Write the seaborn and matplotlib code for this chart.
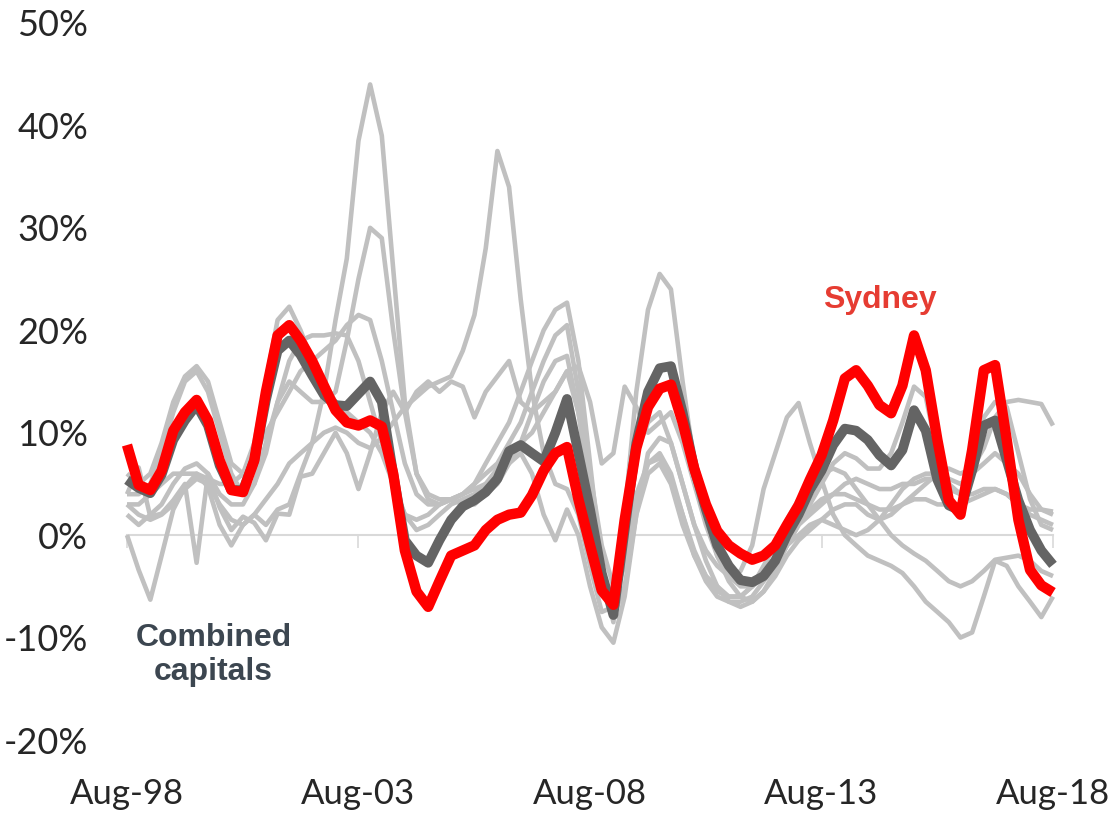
import pandas as pd
import seaborn as sns
import matplotlib.pyplot as plt

# quarterly points, Aug-98 .. Aug-18 (annual % change)
dates = pd.date_range('1998-08-01', '2018-08-01', freq='3MS')

sydney = [8.8, 4.9, 4.4, 6.3, 10.2, 12.0, 13.2, 11.2, 7.3, 4.4,
          4.2, 7.3, 14.0, 19.5, 20.5, 19.0, 17.0, 14.6, 12.2, 11.0,
          10.7, 11.2, 10.6, 6.0, -1.5, -5.5, -7.0, -4.5, -2.0, -1.5,
          -1.0, 0.5, 1.5, 2.0, 2.2, 3.9, 6.3, 8.0, 8.6, 3.5,
          -1.0, -5.4, -6.8, 1.5, 8.5, 12.5, 14.3, 14.7, 11.0, 6.5,
          3.0, 0.4, -1.0, -1.8, -2.4, -2.0, -1.0, 1.0, 2.9, 5.4,
          7.8, 11.2, 15.3, 16.1, 14.6, 12.7, 11.9, 14.6, 19.5, 16.1,
          9.3, 3.4, 2.0, 8.3, 16.1, 16.6, 9.3, 1.5, -3.4, -4.9, -5.6]

combined = [5.4, 4.6, 4.1, 5.9, 9.3, 11.2, 12.7, 10.7, 6.8, 4.4,
            4.4, 7.3, 13.2, 18.0, 19.0, 17.6, 15.6, 13.7, 12.7, 12.6,
            13.8, 15.0, 13.0, 6.0, -0.5, -2.0, -2.7, -0.5, 1.5, 2.8,
            3.4, 4.2, 5.5, 8.2, 8.8, 8.0, 7.2, 10.0, 13.3, 8.0,
            2.5, -3.7, -7.8, 0.5, 9.0, 14.0, 16.3, 16.5, 12.0, 6.5,
            2.5, -1.0, -3.0, -4.4, -4.6, -4.0, -2.5, 0.0, 2.0, 4.4,
            6.3, 8.8, 10.4, 10.2, 9.3, 7.8, 6.8, 8.3, 12.2, 10.2,
            5.4, 2.9, 2.4, 6.3, 10.7, 11.2, 7.3, 3.4, 0.5, -1.5, -2.9]

hobart = [0.0, -3.4, -6.3, -2.0, 2.5, 4.7, 6.0, 4.7, 1.0, -1.0,
          1.0, 2.0, 1.0, 2.5, 3.0, 6.0, 9.0, 14.0, 21.0, 27.0,
          38.5, 44.0, 39.0, 26.0, 13.0, 6.0, 4.0, 3.5, 3.5, 4.0,
          4.5, 5.0, 5.5, 7.0, 8.0, 6.0, 2.0, -0.5, 2.5, 0.0,
          -5.0, -9.0, -10.5, -6.0, 2.0, 8.0, 9.5, 9.0, 5.0, 1.0,
          -2.5, -5.0, -6.5, -7.0, -6.5, -5.5, -4.0, -2.0, -0.5, 0.5,
          1.5, 2.5, 3.0, 3.0, 2.0, 1.5, 2.0, 3.0, 4.0, 5.0,
          6.0, 6.5, 6.0, 6.5, 8.5, 11.5, 13.0, 13.2, 13.0, 12.8, 10.7]

darwin = [4.0, 6.6, 1.8, 2.1, 3.4, 5.0, -2.7, 6.0, 2.7, 0.5,
          1.8, 1.2, -0.5, 2.1, 2.0, 5.7, 6.0, 8.0, 10.0, 8.0,
          4.5, 8.0, 12.0, 14.0, 12.0, 14.0, 15.0, 14.0, 15.0, 14.5,
          11.5, 14.0, 15.5, 17.0, 13.0, 12.0, 13.0, 14.0, 16.0, 16.5,
          13.0, 7.0, 8.0, 14.5, 12.5, 10.0, 11.0, 12.0, 9.0, 5.0,
          1.0, -2.0, -4.0, -3.5, -1.0, 4.5, 8.0, 11.5, 12.9, 9.0,
          5.4, 2.0, 0.0, -1.0, -2.0, -2.5, -3.0, -3.7, -5.0, -6.5,
          -7.5, -8.5, -10.0, -9.5, -6.0, -2.5, -3.0, -5.0, -6.5, -8.0, -6.0]

perth = [3.0, 2.0, 1.5, 2.0, 3.0, 4.5, 5.5, 5.0, 3.0, 1.5,
         1.0, 2.0, 3.5, 5.0, 7.0, 8.0, 9.0, 10.0, 10.5, 10.0,
         9.0, 8.5, 9.5, 11.0, 12.5, 13.5, 14.5, 15.0, 15.5, 18.0,
         21.5, 28.0, 37.5, 34.0, 23.0, 14.0, 8.0, 5.0, 4.5, 2.0,
         -3.0, -7.5, -7.0, -2.0, 4.0, 7.0, 7.5, 5.5, 2.0, -1.5,
         -4.0, -5.5, -6.0, -6.0, -5.0, -3.0, -1.0, 1.5, 3.5, 5.0,
         6.0, 6.5, 6.0, 4.5, 3.0, 1.5, 0.0, -1.0, -1.8, -2.5,
         -3.5, -4.5, -5.0, -4.5, -3.5, -2.4, -2.2, -2.0, -2.5, -3.5, -4.0]

brisbane = [2.0, 1.0, 2.0, 3.0, 5.0, 6.5, 7.0, 6.0, 4.0, 3.0,
            3.0, 5.0, 9.0, 13.0, 15.0, 14.0, 13.0, 13.0, 14.0, 19.0,
            25.0, 30.0, 29.0, 20.0, 12.0, 6.0, 3.5, 3.0, 3.5, 4.0,
            5.0, 6.0, 7.0, 9.0, 11.0, 14.0, 17.0, 19.5, 20.5, 14.0,
            4.0, -4.0, -6.0, -3.0, 3.0, 7.0, 8.0, 6.0, 2.0, -2.0,
            -4.5, -6.0, -6.5, -6.5, -6.0, -4.5, -3.0, -1.0, 1.0, 2.0,
            3.0, 4.0, 5.0, 5.5, 5.0, 4.5, 4.5, 5.0, 5.0, 5.5,
            5.5, 5.0, 4.0, 4.0, 4.5, 4.5, 4.0, 3.0, 2.5, 2.5, 2.3]

adelaide = [3.0, 3.0, 4.0, 5.0, 6.0, 6.0, 6.0, 5.5, 5.0, 5.0,
            6.0, 8.0, 10.0, 12.0, 14.0, 16.0, 17.0, 18.0, 19.0, 20.5,
            21.5, 21.0, 17.0, 12.0, 7.0, 4.0, 3.0, 3.0, 3.5, 4.0,
            5.0, 7.0, 9.0, 11.0, 14.0, 17.0, 20.0, 22.0, 22.7, 17.0,
            7.0, -3.0, -8.0, -5.0, 2.0, 6.0, 7.0, 5.0, 1.0, -2.0,
            -4.0, -5.0, -6.0, -6.0, -5.0, -4.0, -2.0, 0.0, 1.5, 2.5,
            3.5, 4.0, 4.0, 3.5, 3.0, 2.5, 2.5, 3.0, 3.5, 3.5,
            3.0, 3.0, 3.0, 3.5, 4.0, 4.5, 4.0, 3.0, 2.0, 1.5, 1.0]

melbourne = [6.0, 5.0, 6.0, 9.0, 13.0, 15.5, 16.5, 15.0, 11.0, 7.0,
             6.0, 9.0, 15.0, 21.0, 22.3, 20.0, 17.0, 15.0, 13.0, 12.0,
             11.0, 10.0, 8.0, 5.0, 2.0, 0.5, 1.0, 2.0, 3.0, 3.5,
             4.0, 5.0, 6.5, 8.0, 9.0, 10.0, 12.0, 14.0, 16.0, 12.0,
             4.0, -3.0, -8.5, 2.0, 14.0, 22.0, 25.5, 24.0, 15.0, 7.0,
             2.0, -2.0, -4.5, -6.0, -6.5, -5.5, -3.5, -1.0, 1.0, 3.0,
             5.0, 7.0, 8.0, 7.5, 6.5, 6.5, 8.0, 11.0, 14.5, 13.5,
             8.0, 4.5, 4.0, 7.5, 11.5, 13.0, 12.5, 8.0, 3.5, 1.0, 0.5]

canberra = [4.0, 4.0, 5.0, 8.0, 12.0, 15.0, 16.0, 14.0, 10.0, 6.0,
            4.0, 5.0, 8.0, 13.0, 17.0, 19.0, 19.5, 19.5, 19.7, 19.5,
            17.0, 13.0, 9.0, 5.0, 2.0, 1.5, 2.0, 3.0, 3.5, 3.0,
            3.0, 4.0, 5.0, 7.0, 9.0, 12.0, 15.0, 17.0, 17.5, 12.0,
            6.0, -1.0, -5.0, 1.0, 8.0, 11.0, 12.0, 9.0, 5.0, 1.0,
            -1.5, -3.0, -4.0, -5.0, -5.0, -4.0, -3.0, -1.0, 0.0, 1.0,
            1.5, 1.0, 0.5, 0.0, 0.5, 1.5, 3.0, 4.5, 5.5, 6.0,
            6.0, 5.5, 5.0, 6.0, 7.0, 8.0, 7.0, 6.0, 4.0, 2.5, 2.0]

others = [hobart, darwin, perth, brisbane, adelaide, melbourne, canberra]

tick_dates = pd.to_datetime(['1998-08-01', '2003-08-01', '2008-08-01',
                             '2013-08-01', '2018-08-01'])
tick_labels = ['Aug-98', 'Aug-03', 'Aug-08', 'Aug-13', 'Aug-18']
y_ticks = [-20, -10, 0, 10, 20, 30, 40, 50]

sns.set_style('white')
plt.rcParams['font.family'] = ['Lato', 'DejaVu Sans']

fig = plt.figure(figsize=(11.12, 8.13), dpi=100)
ax = fig.add_axes([127 / 1112, 1 - 740 / 813, 926 / 1112, 717 / 813])

line_kw = dict(clip_on=False, solid_capstyle='butt', solid_joinstyle='round')
for city in others:
    sns.lineplot(x=dates, y=city, ax=ax, color='#c0c0c0', lw=3.3,
                 zorder=3, **line_kw)
sns.lineplot(x=dates, y=combined, ax=ax, color='#646464', lw=7,
             zorder=4, **line_kw)
sns.lineplot(x=dates, y=sydney, ax=ax, color='#ff0000', lw=7.5,
             zorder=5, **line_kw)

ax.set_xlim(dates[0], dates[-1])
ax.set_ylim(-20, 50)
ax.set_xticks(tick_dates)
ax.set_xticklabels(tick_labels)
ax.set_yticks(y_ticks)
ax.set_yticklabels([f'{v}%' for v in y_ticks])
ax.set_xlabel('')
ax.set_ylabel('')

# zero line with Excel-style tick marks, labels kept at the bottom
for s in ['left', 'right', 'bottom']:
    ax.spines[s].set_visible(False)
ax.spines['top'].set_position(('data', 0))
ax.spines['top'].set_color('#d9d9d9')
ax.spines['top'].set_linewidth(1.5)
ax.tick_params(axis='x', top=True, bottom=False, direction='in', length=9,
               width=1.2, color='#d9d9d9', labeltop=False, labelbottom=True,
               labelsize=25, pad=27)
ax.tick_params(axis='y', length=0, labelsize=26, pad=28)

ax.text(pd.Timestamp('2014-11-01'), 23.0, 'Sydney', color='#e63c32',
        fontsize=23, fontweight='bold', ha='center', va='center',
        family=['Liberation Sans', 'DejaVu Sans'])
ax.text(pd.Timestamp('2000-06-15'), -11.7, 'Combined\ncapitals',
        color='#3c4650', fontsize=23, fontweight='bold', ha='center',
        va='center', linespacing=1.2, family=['Liberation Sans', 'DejaVu Sans'])

fig.savefig('out.png', dpi=100)
